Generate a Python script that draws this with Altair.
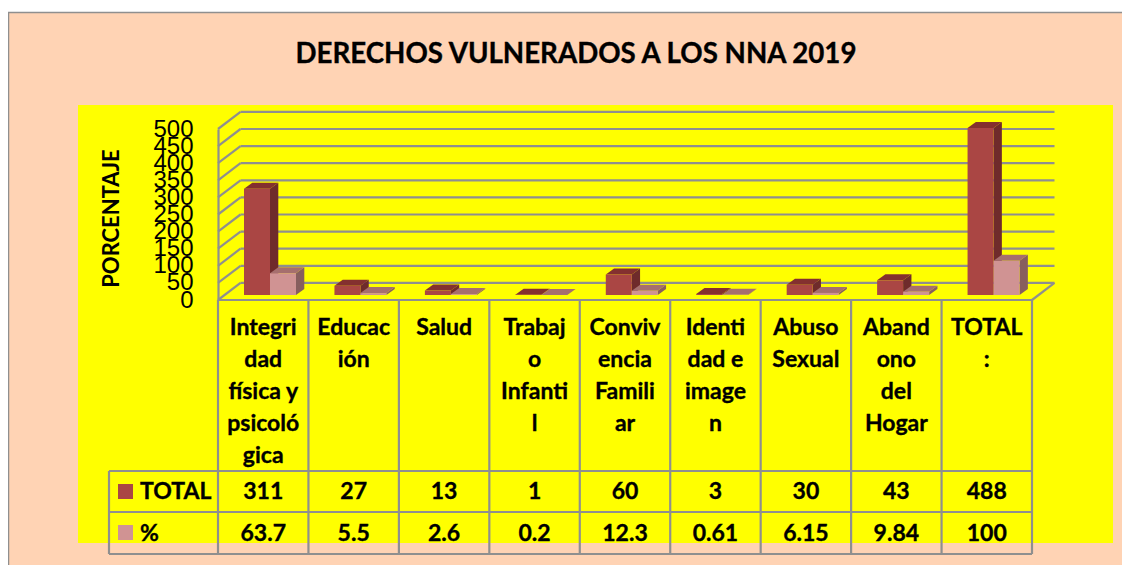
import altair as alt
import pandas as pd

title_text = "DERECHOS VULNERADOS A LOS NNA 2019"
categories = ["Integri\ndad\nfísica y\npsicoló\ngica", "Educac\nión", "Salud", "Trabaj\no\nInfanti\nl",
              "Conviv\nencia\nFamili\nar", "Identi\ndad e\nimage\nn", "Abuso\nSexual", "Aband\nono\ndel\nHogar", "TOTAL\n:"]
total_values = [311, 27, 13, 1, 60, 3, 30, 43, 488]
pct_values = [63.7, 5.5, 2.6, 0.2, 12.3, 0.61, 6.15, 9.84, 100]
total_labels = ["311", "27", "13", "1", "60", "3", "30", "43", "488"]
pct_labels = ["63.7", "5.5", "2.6", "0.2", "12.3", "0.61", "6.15", "9.84", "100"]
y_ticks = list(range(0, 501, 50))

FONT = "Lato"
GRAY = "#8F8F8F"
PEACH = "#FFD3B4"
YELLOW = "#FFFF00"
RED = ("#AA4644", "#6F2B2B", "#84302F")
PINK = ("#D09393", "#885E5E", "#A66F6E")

# layout: image pixels -> data units
X0, CW, Y0, VS = 218.0, 814 / 9, 300.0, 171 / 500
px = lambda p: (p - X0) / CW
py = lambda p: (Y0 - p) / VS

xs = alt.Scale(domain=[0, 9], nice=False, zero=False)
ys = alt.Scale(domain=[0, 500], nice=False, zero=False)
Y_AXIS = alt.Axis(
    values=y_ticks, title="PORCENTAJE", titleFont=FONT, titleFontWeight="bold", titleFontSize=22,
    titleColor="#000000", titleX=-107, titleY=89, titleAlign="center", titleBaseline="middle",
    labelFont="Liberation Sans", labelFontSize=24, labelColor="#000000", labelPadding=25,
    labelOverlap=False, labelBaseline="middle",
    ticks=False, grid=False, domain=True, domainColor=GRAY, domainWidth=2.2, zindex=1)
X = alt.X("x:Q", scale=xs, axis=None)
X2 = alt.X2("x2:Q")
Y = alt.Y("y:Q", scale=ys, axis=Y_AXIS)
Y2 = alt.Y2("y2:Q")


def rects(rows, **style):
    return alt.Chart(pd.DataFrame(rows)).mark_rect(**style).encode(x=X, x2=X2, y=Y, y2=Y2)


def rules(rows, color=GRAY, width=2.2):
    return alt.Chart(pd.DataFrame(rows)).mark_rule(color=color, strokeWidth=width).encode(x=X, x2=X2, y=Y, y2=Y2)


def texts(rows, **style):
    st = dict(font=FONT, fontWeight="bold", fontSize=23, color="#000000", baseline="middle", lineBreak="\n",
              lineHeight=32, stroke="#000000", strokeWidth=0.35)
    st.update(style)
    return alt.Chart(pd.DataFrame(rows)).mark_text(**st).encode(x=X, y=Y, text="t:N")


layers = []
# page panels
layers.append(rects([dict(x=px(8.5), x2=px(1150), y=py(12.5), y2=py(590))], fill=PEACH, stroke=GRAY, strokeWidth=1.5))
layers.append(rects([dict(x=px(78), x2=px(1113), y=py(105), y2=py(543))], fill=YELLOW))
layers.append(texts([dict(x=px(576), y=py(55), t=title_text)], align="center", fontSize=27.7))

# 3-D walls: depth equals one gridline step
DX, DV = px(240.5), 50
layers.append(rules([dict(x=DX, x2=9 + DX, y=v + DV, y2=v + DV) for v in y_ticks]))
wall = [dict(x=0, x2=DX, y=v, y2=v + DV) for v in y_ticks] + [dict(x=9, x2=9 + DX, y=0, y2=DV)]
layers.append(rules(wall))
layers.append(rules([dict(x=0, x2=9, y=0, y2=0)], width=2.2))

# bars
BASE = py(295)
LEFT, BW = px(244), 26 / CW
BDX, BDV = 8.3 / CW, 6 / VS
for s, (values, (front, side, top)) in enumerate([(total_values, RED), (pct_values, PINK)]):
    side_rows, top_rows, front_rows = [], [], []
    for i, v in enumerate(values):
        l = i + LEFT + s * BW
        r = l + BW
        t = BASE + v
        side_rows += [dict(k=i, x=r, y=BASE, y2=t), dict(k=i, x=r + BDX, y=BASE + BDV, y2=t + BDV)]
        top_rows += [dict(k=i, x=l, y=t, y2=t), dict(k=i, x=l + BDX, y=t, y2=t + BDV),
                     dict(k=i, x=r, y=t, y2=t + BDV), dict(k=i, x=r + BDX, y=t + BDV, y2=t + BDV)]
        front_rows.append(dict(x=l, x2=r, y=BASE, y2=t))
    layers.append(alt.Chart(pd.DataFrame(side_rows)).mark_area(color=side).encode(x=X, y=Y, y2=Y2, detail="k:N"))
    layers.append(alt.Chart(pd.DataFrame(top_rows)).mark_area(color=top).encode(x=X, y=Y, y2=Y2, detail="k:N"))
    layers.append(rects(front_rows, fill=front))

# data table
R0, R1, R2 = py(471), py(512), py(554)
LX = px(109)
layers.append(rules([dict(x=i, x2=i, y=0, y2=R2) for i in range(10)] + [dict(x=LX, x2=LX, y=R0, y2=R2)]))
layers.append(rules([dict(x=LX, x2=9, y=r, y2=r) for r in (R0, R1, R2)]))
layers.append(rects([dict(x=px(118), x2=px(133), y=py(484), y2=py(499))], fill=RED[0]))
layers.append(rects([dict(x=px(118), x2=px(133), y=py(525), y2=py(540))], fill=PINK[0]))
layers.append(texts([dict(x=px(140), y=py(492), t="TOTAL"), dict(x=px(140), y=py(534), t="%")], align="left"))
layers.append(texts([dict(x=i + 0.5, y=py(492), t=t) for i, t in enumerate(total_labels)], align="center"))
layers.append(texts([dict(x=i + 0.5, y=py(534), t=t) for i, t in enumerate(pct_labels)], align="center"))
layers.append(texts([dict(x=i + 0.5, y=py(328), t=t) for i, t in enumerate(categories)], align="center"))

chart = alt.layer(*layers).properties(
    width=814, height=171,
    padding={"left": 210, "top": 121, "right": 90, "bottom": 265},
    autosize=alt.AutoSizeParams(type="none"),
    background="#FFFFFF",
).configure_view(stroke=None)

chart.save("out.html", embed_options={"renderer": "svg", "actions": False})
